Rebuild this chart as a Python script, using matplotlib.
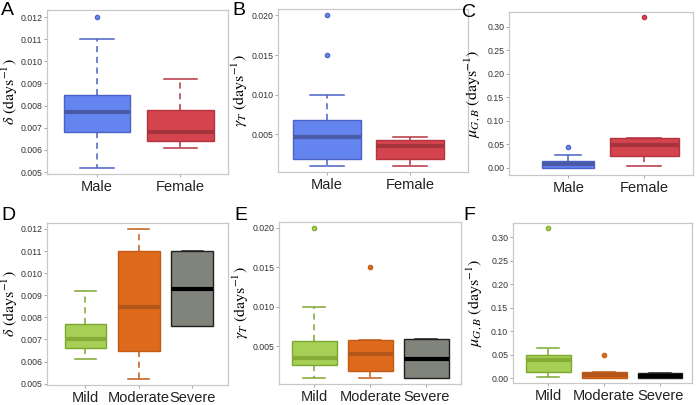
import matplotlib
matplotlib.use("Agg")
import matplotlib.pyplot as plt

plt.rcParams['mathtext.fontset'] = 'stix'
plt.rcParams['font.family'] = ['Liberation Sans', 'DejaVu Sans']

# categories
sex_groups = ['Male', 'Female']
sev_groups = ['Mild', 'Moderate', 'Severe']

# five-number summaries: whislo, q1, median, q3, whishi
delta_sex = [[0.0052, 0.0068, 0.0077, 0.0085, 0.0110],
             [0.0061, 0.0064, 0.0068, 0.0078, 0.0092]]
delta_sex_out = [[0.0120], []]

gamma_sex = [[0.0010, 0.0019, 0.0047, 0.0068, 0.0100],
             [0.0010, 0.0019, 0.0035, 0.0043, 0.0047]]
gamma_sex_out = [[0.015, 0.020], []]

mu_sex = [[0.000, 0.000, 0.007, 0.015, 0.026],
          [0.0035, 0.024, 0.049, 0.063, 0.064]]
mu_sex_out = [[0.045], [0.32]]

delta_sev = [[0.0061, 0.0066, 0.0070, 0.0077, 0.0092],
             [0.0052, 0.0065, 0.00846, 0.0110, 0.0120],
             [0.0076, 0.0076, 0.0093, 0.0110, 0.0110]]
delta_sev_out = [[], [], []]

gamma_sev = [[0.0009, 0.0026, 0.0035, 0.0057, 0.0100],
             [0.0010, 0.0018, 0.0040, 0.0058, 0.0058],
             [0.0010, 0.0010, 0.0034, 0.0059, 0.0059]]
gamma_sev_out = [[0.020], [0.015], []]

mu_sev = [[0.003, 0.012, 0.038, 0.0487, 0.063],
          [0.000, 0.000, 0.006, 0.0134, 0.0134],
          [0.000, 0.000, 0.005, 0.0106, 0.0106]]
mu_sev_out = [[0.32], [0.049], []]

# colours: fill, edge, median
sex_colors = [('#6484ef', '#4a62c4', '#4a5aa8'),
              ('#d4444f', '#b5333e', '#a5333b')]
sev_colors = [('#a6cf55', '#7ca82f', '#86ab36'),
              ('#de6a1d', '#c25a17', '#b2561a'),
              ('#80847b', '#202020', '#000000')]

W, H = 696, 405


def px_axes(fig, left, top, right, bottom):
    return fig.add_axes([left / W, 1 - bottom / H, (right - left) / W, (bottom - top) / H])


def draw_panel(ax, groups, summ, outs, colors, widths, xlim, ylim, yticks, yfmt, ylabel, label_x):
    stats = []
    for g, s, o in zip(groups, summ, outs):
        stats.append(dict(label=g, whislo=s[0], q1=s[1], med=s[2], q3=s[3], whishi=s[4], fliers=o))
    pos = list(range(1, len(groups) + 1))
    bp = ax.bxp(stats, positions=pos, widths=widths, patch_artist=True, showcaps=True)
    for i, (fc, ec, mc) in enumerate(colors):
        bp['boxes'][i].set(facecolor=fc, edgecolor=ec, linewidth=1.0, zorder=3)
        bp['medians'][i].set(color=mc, linewidth=3.0, zorder=4)
        for w in bp['whiskers'][2 * i:2 * i + 2]:
            w.set(color=ec, linestyle=(0, (4, 3)), linewidth=1.1)
        for c in bp['caps'][2 * i:2 * i + 2]:
            c.set(color=ec, linewidth=1.1)
        bp['fliers'][i].set(marker='o', markersize=3.2, markerfacecolor=fc,
                            markeredgecolor=ec, markeredgewidth=0.8)
    ax.set_xlim(*xlim)
    ax.set_ylim(*ylim)
    ax.set_yticks(yticks)
    ax.set_yticklabels([yfmt.format(t) for t in yticks])
    ax.set_xticks(pos)
    ax.set_xticklabels(groups)
    ax.tick_params(axis='y', labelsize=6.3, colors='#999999', labelcolor='#333333', length=2, width=0.6, pad=1.5)
    ax.tick_params(axis='x', labelsize=10.5, colors='#999999', labelcolor='#222222', length=2.5, width=0.6, pad=2)
    for sp in ax.spines.values():
        sp.set_color('#c8c8c8')
        sp.set_linewidth(0.9)
    ax.set_ylabel(ylabel, fontsize=11.5)
    bb = ax.get_position()
    ax.yaxis.set_label_coords(label_x / W, (bb.y0 + bb.y1) / 2, transform=ax.figure.transFigure)


fig = plt.figure(figsize=(6.96, 4.05), dpi=100)

axA = px_axes(fig, 47, 10, 228, 174)
draw_panel(axA, sex_groups, delta_sex, delta_sex_out, sex_colors, 0.8, (0.4, 2.57),
           (0.00491, 0.01232), [0.005, 0.006, 0.007, 0.008, 0.009, 0.010, 0.011, 0.012], '{:.3f}',
           r'$\delta\ (\mathrm{days}^{-1})$', 20)
axB = px_axes(fig, 278, 9, 468, 172)
draw_panel(axB, sex_groups, gamma_sex, gamma_sex_out, sex_colors, 0.81, (0.41, 2.70),
           (0.00025, 0.0208), [0.005, 0.010, 0.015, 0.020], '{:.3f}',
           r'$\gamma_T\ (\mathrm{days}^{-1})$', 250)
axC = px_axes(fig, 509, 12, 693, 175)
draw_panel(axC, sex_groups, mu_sex, mu_sex_out, sex_colors, [0.68, 0.9], (0.22, 2.64),
           (-0.0156, 0.331), [0.0, 0.05, 0.10, 0.15, 0.20, 0.25, 0.30], '{:.2f}',
           r'$\mu_{G,B}\ (\mathrm{days}^{-1})$', 483)
axD = px_axes(fig, 47, 223, 228, 385)
draw_panel(axD, sev_groups, delta_sev, delta_sev_out, sev_colors, 0.78, (0.28, 3.67),
           (0.00494, 0.01227), [0.005, 0.006, 0.007, 0.008, 0.009, 0.010, 0.011, 0.012], '{:.3f}',
           r'$\delta\ (\mathrm{days}^{-1})$', 20)
axE = px_axes(fig, 279, 222, 461, 384)
draw_panel(axE, sev_groups, gamma_sev, gamma_sev_out, sev_colors, 0.8, (0.37, 3.62),
           (0.00018, 0.02076), [0.005, 0.010, 0.015, 0.020], '{:.3f}',
           r'$\gamma_T\ (\mathrm{days}^{-1})$', 251)
axF = px_axes(fig, 513, 223, 692, 383)
draw_panel(axF, sev_groups, mu_sev, mu_sev_out, sev_colors, 0.8, (0.37, 3.57),
           (-0.0106, 0.33), [0.0, 0.05, 0.10, 0.15, 0.20, 0.25, 0.30], '{:.2f}',
           r'$\mu_{G,B}\ (\mathrm{days}^{-1})$', 485)

# panel letters
for lab, x, y in [('A', 1, 2), ('B', 232, 2), ('C', 462, 4), ('D', 1, 207), ('E', 234, 207), ('F', 463, 207)]:
    fig.text(x / W, 1 - y / H, lab, fontsize=14, va='top', ha='left')

fig.savefig('out.png', dpi=100)
